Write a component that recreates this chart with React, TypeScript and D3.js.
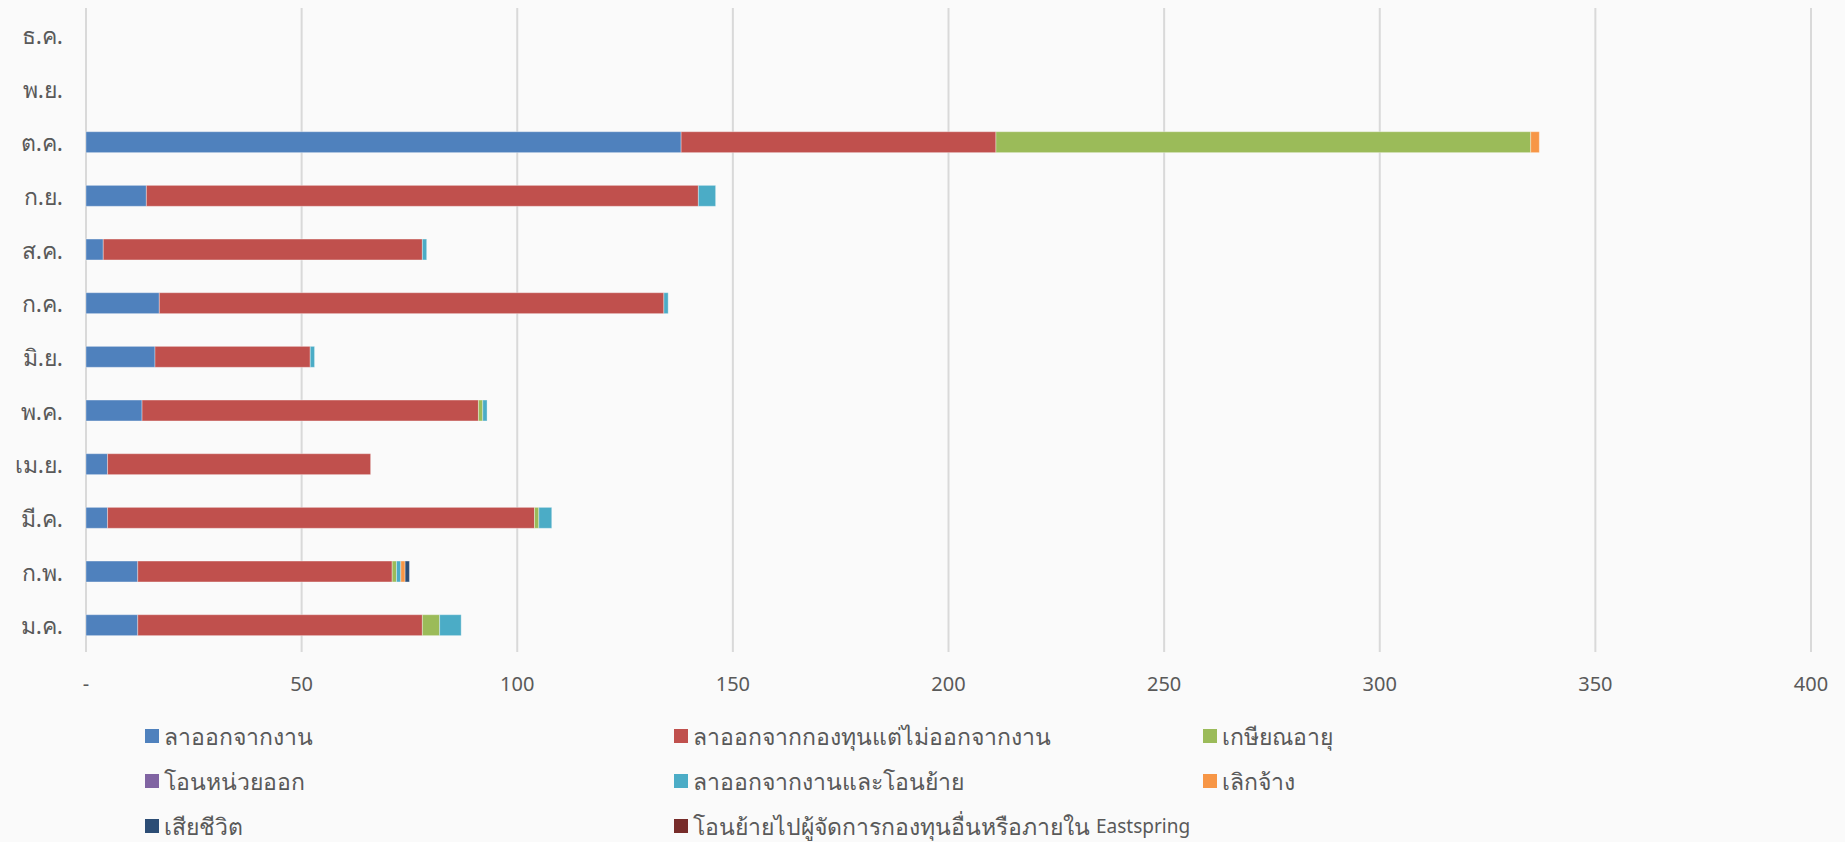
import { useMemo } from "react";
import * as d3 from "d3";

const WIDTH = 1845;
const HEIGHT = 842;

// months, bottom to top as drawn
const months = ["ม.ค.", "ก.พ.", "มี.ค.", "เม.ย.", "พ.ค.", "มิ.ย.", "ก.ค.", "ส.ค.", "ก.ย.", "ต.ค.", "พ.ย.", "ธ.ค."];

const seriesNames = [
  "ลาออกจากงาน",
  "ลาออกจากกองทุนแต่ไม่ออกจากงาน",
  "เกษียณอายุ",
  "โอนหน่วยออก",
  "ลาออกจากงานและโอนย้าย",
  "เลิกจ้าง",
  "เสียชีวิต",
  "โอนย้ายไปผู้จัดการกองทุนอื่นหรือภายใน Eastspring",
];

const colors = ["#4f81bd", "#c0504d", "#9bbb59", "#8064a2", "#4bacc6", "#f79646", "#2c4d75", "#772c2a"];

// values per series, in month order above
const resign = [12, 12, 5, 5, 13, 16, 17, 4, 14, 138, 0, 0];
const leaveFund = [66, 59, 99, 61, 78, 36, 117, 74, 128, 73, 0, 0];
const retire = [4, 1, 1, 0, 1, 0, 0, 0, 0, 124, 0, 0];
const unitOut = [0, 0, 0, 0, 0, 0, 0, 0, 0, 0, 0, 0];
const resignTransfer = [5, 1, 3, 0, 1, 1, 1, 1, 4, 0, 0, 0];
const laidOff = [0, 1, 0, 0, 0, 0, 0, 0, 0, 2, 0, 0];
const deceased = [0, 1, 0, 0, 0, 0, 0, 0, 0, 0, 0, 0];
const transferOther = [0, 0, 0, 0, 0, 0, 0, 0, 0, 0, 0, 0];

const seriesValues = [resign, leaveFund, retire, unitOut, resignTransfer, laidOff, deceased, transferOther];

const xTicks = [0, 50, 100, 150, 200, 250, 300, 350, 400];

const FONT = "'Noto Sans', 'Open Sans', 'DejaVu Sans', sans-serif";
const TEXT = "#595959";

const left = 86;
const right = 1811;
const top = 8;
const bottom = 652;

// latin words in the legend are set a bit smaller than the thai text
const legendLabel = (s: string) => {
  const k = s.indexOf("Eastspring");
  if (k < 0) return s;
  return (
    <>
      {s.slice(0, k)}
      <tspan fontSize={19}>Eastspring</tspan>
    </>
  );
};

export default function App() {
  const x = d3.scaleLinear().domain([0, 400]).range([left, right]);
  const y = d3
    .scaleBand<string>()
    .domain(months)
    .range([bottom, top])
    .paddingInner(0.61)
    .paddingOuter(0.305);

  const stacked = useMemo(() => {
    const rows = months.map((m, i) => {
      const row: Record<string, number | string> = { month: m };
      seriesNames.forEach((s, j) => (row[s] = seriesValues[j][i]));
      return row;
    });
    return d3.stack<any>().keys(seriesNames)(rows);
  }, []);

  const legendCols = [145, 674, 1203];
  const legendRows = [736, 781, 826];

  return (
    <svg
      width={WIDTH}
      height={HEIGHT}
      style={{ position: "absolute", left: 0, top: 0 }}
      fontFamily={FONT}
    >
      <rect width={WIDTH} height={HEIGHT} fill="#fafafa" />
      {xTicks.map((t) => (
        <line key={t} x1={x(t)} x2={x(t)} y1={top} y2={bottom} stroke="#d9d9d9" strokeWidth={2} />
      ))}
      {xTicks.map((t) => (
        <text key={t} x={x(t)} y={683} textAnchor="middle" dominantBaseline="central" fontSize={20} fill={TEXT}>
          {t === 0 ? "-" : t}
        </text>
      ))}
      {months.map((m) => (
        <text
          key={m}
          x={63}
          y={(y(m) ?? 0) + y.bandwidth() / 2}
          textAnchor="end"
          dominantBaseline="central"
          fontSize={23}
          fill={TEXT}
        >
          {m}
        </text>
      ))}
      {stacked.map((layer, j) => (
        <g key={layer.key} fill={colors[j]}>
          {layer.map((d, i) =>
            d[1] - d[0] > 0 ? (
              <rect
                key={i}
                x={x(d[0])}
                width={x(d[1]) - x(d[0])}
                y={y(months[i])}
                height={y.bandwidth()}
                stroke="#ffffff"
                strokeOpacity={0.35}
                strokeWidth={1}
              />
            ) : null
          )}
        </g>
      ))}
      {seriesNames.map((s, j) => {
        const cx = legendCols[j % 3];
        const cy = legendRows[Math.floor(j / 3)];
        return (
          <g key={s}>
            <rect x={cx} y={cy - 7} width={14} height={14} fill={colors[j]} />
            <text x={cx + 19} y={cy} dominantBaseline="central" fontSize={23} fill={TEXT}>
              {legendLabel(s)}
            </text>
          </g>
        );
      })}
    </svg>
  );
}
